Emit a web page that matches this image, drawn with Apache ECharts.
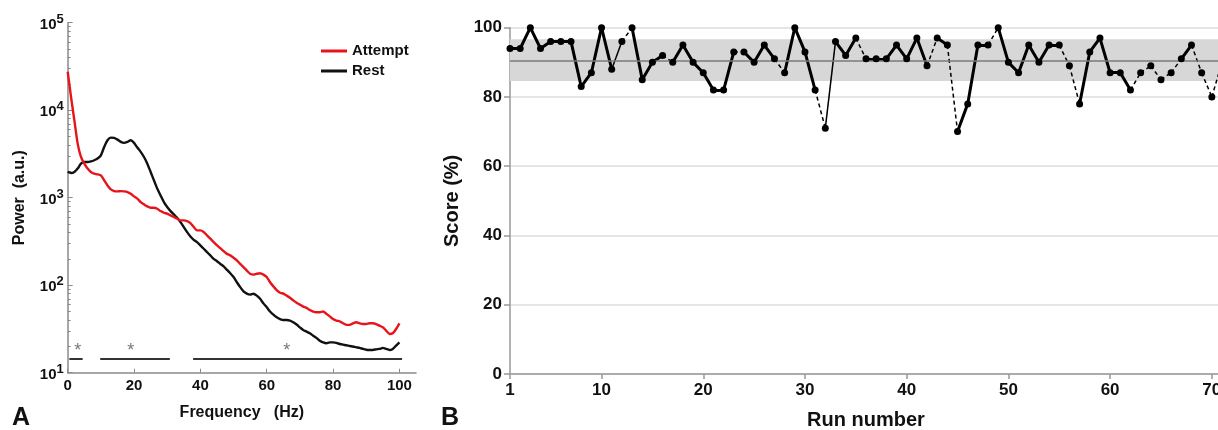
<!DOCTYPE html>
<html>
<head>
<meta charset="utf-8">
<script src="https://cdn.jsdelivr.net/npm/echarts@6/dist/echarts.min.js"></script>
<style>
html,body{margin:0;padding:0;background:#fff;}
#chart{width:1218px;height:430px;}
</style>
</head>
<body>
<div id="chart"></div>
<script>
// ---------- Panel A: power spectra ----------
const freqHz = [0,1,2,3,4,5,6,7,8,9,10,11,12,13,14,15,16,17,18,19,20,21,22,23,24,25,26,27,28,29,30,31,32,33,34,35,36,37,38,39,40,41,42,43,44,45,46,47,48,49,50,51,52,53,54,55,56,57,58,59,60,61,62,63,64,65,66,67,68,69,70,71,72,73,74,75,76,77,78,79,80,81,82,83,84,85,86,87,88,89,90,91,92,93,94,95,96,97,98,99,100];
const attemptPower = [
  27500,14200,7700,4150,2920,2450,2150,1970,1880,1850,
  1800,1580,1380,1245,1190,1180,1190,1180,1160,1110,
  1035,975,890,840,795,768,768,748,703,673,
  656,628,601,575,550,550,541,513,462,423,
  423,405,371,340,311,285,265,245,228,219,
  206,192,175,161,147,135,132,135,137,132,
  124,108,97,88,82,80,76,72,67,63,
  60,57,55,52,50,49,49,50,47,44,
  41,39.4,38.7,36.7,35.2,35.2,36.7,37.7,36.7,36,
  36,36.7,36.7,36,34.5,33,30.3,27.7,28.2,31.6,36.7];
const restPower = [
  1970,1915,1970,2150,2450,2560,2560,2600,2680,2800,
  3050,3800,4530,4860,4820,4610,4340,4230,4340,4530,
  4230,3740,3340,2920,2450,1970,1580,1270,1060,890,
  782,703,644,590,526,461,404,360,330,311,
  285,261,239,219,200,188,175,164,150,137,
  124,108,95,85,80,78,80,76,70,62,
  56,50,46,43,41,40,40,39.4,37.7,35.5,
  33,30.8,29.5,28.2,26.5,25,23.2,22.2,21.7,22.2,
  22.2,21.9,21.3,20.9,20.6,20.2,19.9,19.5,19.2,18.7,
  18.3,18.2,18.2,18.5,18.7,19.2,18.7,18.2,18.7,20.4,22.2];
const sigStartHz = [0.5, 9.8, 37.8];
const sigEndHz = [4.5, 30.8, 100.8];
const sigStarHz = [3, 19, 66];
const freqTicks = [0,20,40,60,80,100];

// ---------- Panel B: scores ----------
const runNumber = [1,2,3,4,5,6,7,8,9,10,11,12,13,14,15,16,17,18,19,20,21,22,23,24,25,26,27,28,29,30,31,32,33,34,35,36,37,38,39,40,41,42,43,44,45,46,47,48,49,50,51,52,53,54,55,56,57,58,59,60,61,62,63,64,65,66,67,68,69,70,71];
const scorePct = [
  94,94,100,94,96,96,96,83,87,100,
  88,96,100,85,90,92,90,95,90,87,
  82,82,93,93,90,95,91,87,100,93,
  82,71,96,92,97,91,91,91,95,91,
  97,89,97,95,70,78,95,95,100,90,
  87,95,90,95,95,89,78,93,97,87,
  87,82,87,89,85,87,91,95,87,80,90];
// kind of link between run i and run i+1: A = main, B = secondary, C = gap
const linkKind = [
  'A','A','A','A','A','A','A','A','A','A',
  'B','C','A','A','A','C','A','A','A','A',
  'A','A','C','A','A','A','C','A','A','A',
  'C','B','A','A','C','A','A','A','A','A',
  'A','C','A','C','A','A','A','C','A','A',
  'A','A','A','A','C','C','A','A','A','A',
  'A','C','C','C','C','C','A','C','C','C'];
const meanScore = 90.6;
const bandLow = 84.6;
const bandHigh = 96.7;
const runTicks = [1,10,20,30,40,50,60,70];
const scoreTicks = [0,20,40,60,80,100];

const FONT = "'Liberation Sans', Arial, sans-serif";
const chart = echarts.init(document.getElementById('chart'), null, {renderer: 'canvas'});

const attemptData = freqHz.map((f, i) => [f, attemptPower[i]]);
const restData = freqHz.map((f, i) => [f, restPower[i]]);
const sigData = sigStartHz.map((s, i) => ({coords: [[s, 14.6], [sigEndHz[i], 14.6]]}));
const starData = sigStarHz.map(f => [f, 17.5]);

function linksOf(kind) {
  const out = [];
  for (let i = 0; i < runNumber.length - 1; i++) {
    if (linkKind[i] === kind) {
      out.push({coords: [[runNumber[i], scorePct[i]], [runNumber[i + 1], scorePct[i + 1]]]});
    }
  }
  return out;
}
const pointData = runNumber.map((r, i) => [r, scorePct[i]]);

const minorLog = [];
[10, 100, 1000, 10000].forEach(d => { for (let k = 2; k <= 9; k++) minorLog.push(d * k); });

const boldLabel = (size) => ({fontFamily: FONT, fontWeight: 'bold', fontSize: size, color: '#111'});
const AXIS_A = '#8a8a8a';

chart.setOption({
  animation: false,
  backgroundColor: '#ffffff',
  grid: [
    {left: 67.7, top: 22.7, width: 348.3, height: 350, containLabel: false, outerBoundsMode: 'none'},
    {left: 510, top: 27.7, width: 712, height: 346.3, containLabel: false, outerBoundsMode: 'none'}
  ],
  legend: {
    data: ['Attempt', 'Rest'],
    orient: 'vertical',
    left: 316,
    top: 37,
    itemWidth: 26,
    itemHeight: 3,
    itemGap: 2,
    icon: 'rect',
    textStyle: Object.assign(boldLabel(15), {lineHeight: 18, padding: [0, 0, 0, 0]})
  },
  xAxis: [
    {
      gridIndex: 0, type: 'value', min: 0, max: 105,
      name: 'Frequency   (Hz)', nameLocation: 'middle', nameGap: 32,
      nameTextStyle: boldLabel(16),
      axisLine: {show: true, lineStyle: {color: AXIS_A, width: 1.5}},
      axisTick: {show: true, inside: true, length: 4, customValues: freqTicks, lineStyle: {color: AXIS_A}},
      axisLabel: {customValues: freqTicks, margin: 6, ...boldLabel(15)},
      splitLine: {show: false}
    },
    {
      gridIndex: 1, type: 'value', min: 1, max: 71,
      name: 'Run number', nameLocation: 'middle', nameGap: 36,
      nameTextStyle: boldLabel(20),
      axisLine: {show: true, lineStyle: {color: '#999', width: 1.5}},
      axisTick: {show: true, length: 5, customValues: runTicks, lineStyle: {color: '#999', width: 1.5}},
      axisLabel: {customValues: runTicks, margin: 8, ...boldLabel(17)},
      splitLine: {show: false}
    }
  ],
  yAxis: [
    {
      gridIndex: 0, type: 'log', logBase: 10, min: 10, max: 100000, position: 'left',
      name: 'Power  (a.u.)', nameLocation: 'middle', nameGap: 40,
      nameTextStyle: boldLabel(16),
      axisLine: {show: true, lineStyle: {color: AXIS_A, width: 1.5}},
      axisTick: {show: true, inside: true, length: 5, lineStyle: {color: AXIS_A}},
      axisLabel: {
        margin: 4,
        formatter: v => '{b|10}{s|' + Math.round(Math.log10(v)) + '}',
        rich: {
          b: {fontFamily: FONT, fontWeight: 'bold', fontSize: 15, color: '#111', padding: [4, 0, 0, 0]},
          s: {fontFamily: FONT, fontWeight: 'bold', fontSize: 13, color: '#111', padding: [0, 0, 7, 0]}
        }
      },
      splitLine: {show: false}
    },
    {
      gridIndex: 0, type: 'log', logBase: 10, min: 10, max: 100000, position: 'left',
      axisLine: {show: false},
      axisTick: {show: true, inside: true, length: 3, customValues: minorLog, lineStyle: {color: AXIS_A}},
      axisLabel: {show: false},
      splitLine: {show: false}
    },
    {
      gridIndex: 1, type: 'value', min: 0, max: 100, interval: 20,
      name: 'Score (%)', nameLocation: 'middle', nameGap: 48,
      nameTextStyle: boldLabel(20),
      axisLine: {show: true, lineStyle: {color: '#999', width: 1.5}},
      axisTick: {show: true, length: 6, lineStyle: {color: '#999', width: 1.5}},
      axisLabel: {margin: 8, ...boldLabel(17)},
      splitLine: {show: true, lineStyle: {color: '#dcdcdc', width: 1.5}}
    }
  ],
  series: [
    {
      name: 'Rest', type: 'line', xAxisIndex: 0, yAxisIndex: 0,
      data: restData, showSymbol: false, symbol: 'none', smooth: 0.2,
      lineStyle: {color: '#111', width: 2.4}, itemStyle: {color: '#111'}, z: 3
    },
    {
      name: 'Attempt', type: 'line', xAxisIndex: 0, yAxisIndex: 0,
      data: attemptData, showSymbol: false, symbol: 'none', smooth: 0.2,
      lineStyle: {color: '#e8141b', width: 2.4}, itemStyle: {color: '#e8141b'}, z: 4
    },
    {
      name: 'sig', type: 'lines', coordinateSystem: 'cartesian2d', xAxisIndex: 0, yAxisIndex: 0,
      data: sigData, lineStyle: {color: '#333', width: 2, opacity: 1}, z: 3
    },
    {
      name: 'star', type: 'scatter', xAxisIndex: 0, yAxisIndex: 0,
      data: starData, symbolSize: 0,
      label: {show: true, formatter: '*', position: 'inside', fontFamily: FONT, fontSize: 18, color: '#555'},
      z: 3
    },
    {
      name: 'band', type: 'line', xAxisIndex: 1, yAxisIndex: 2, data: [], z: 1,
      markArea: {silent: true, itemStyle: {color: '#d7d7d7', opacity: 1},
        data: [[{yAxis: bandLow}, {yAxis: bandHigh}]]},
      markLine: {silent: true, symbol: 'none', label: {show: false},
        lineStyle: {color: '#7a7a7a', width: 1.6, type: 'solid'},
        data: [{yAxis: meanScore}]}
    },
    {
      name: 'linkA', type: 'lines', coordinateSystem: 'cartesian2d', xAxisIndex: 1, yAxisIndex: 2,
      data: linksOf('A'), lineStyle: {color: '#000', width: 3, opacity: 1, cap: 'round', join: 'round'}, z: 4
    },
    {
      name: 'linkB', type: 'lines', coordinateSystem: 'cartesian2d', xAxisIndex: 1, yAxisIndex: 2,
      data: linksOf('B'), lineStyle: {color: '#000', width: 1.5, opacity: 1}, z: 4
    },
    {
      name: 'linkC', type: 'lines', coordinateSystem: 'cartesian2d', xAxisIndex: 1, yAxisIndex: 2,
      data: linksOf('C'), lineStyle: {color: '#000', width: 1.5, opacity: 1, type: [4, 3]}, z: 4
    },
    {
      name: 'runs', type: 'scatter', xAxisIndex: 1, yAxisIndex: 2,
      data: pointData, symbol: 'circle', symbolSize: 7,
      itemStyle: {color: '#000', opacity: 1}, z: 5
    }
  ],
  graphic: [
    {type: 'text', left: 12, top: 406, style: {text: 'A', fontFamily: FONT, fontWeight: 'bold', fontSize: 25, fill: '#111'}},
    {type: 'text', left: 441, top: 406, style: {text: 'B', fontFamily: FONT, fontWeight: 'bold', fontSize: 25, fill: '#111'}}
  ]
});
</script>
</body>
</html>
